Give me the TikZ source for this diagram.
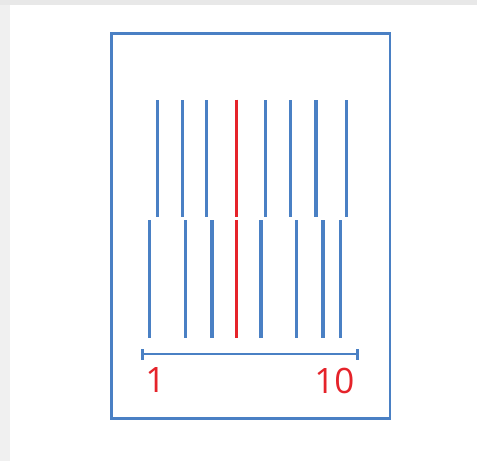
\documentclass[tikz,border=0pt]{standalone}
\usepackage{fontspec}
\setmainfont{Open Sans}
\definecolor{bgray}{HTML}{E8E8E8}
\definecolor{lgray}{HTML}{F0F0F0}
\definecolor{rblue}{HTML}{4A80C4}
\definecolor{rred}{HTML}{E5232A}
\tikzset{
  slit/.style={draw=rblue, line width=3pt},
  thickslit/.style={draw=rblue, line width=4pt},
  redslit/.style={draw=rred, line width=3pt},
  label/.style={text=rred, font=\fontsize{35}{35}\selectfont, inner sep=0pt},
}
\begin{document}
\begin{tikzpicture}[x=1pt,y=-1pt]
\useasboundingbox (0,0) rectangle (477,461);
\fill[bgray] (0,0) rectangle (477,461);
\fill[lgray] (0,5) rectangle (10,461);
\fill[white] (10,5) rectangle (477,461);
% frame
\draw[rblue, line width=2.8pt] (111.7,33.7) rectangle (390,418.3);
% top row
\foreach \x/\s in {157.7/slit,182.5/slit,206.7/slit,265.3/slit,290.2/slit,315.7/thickslit,346/slit}
  \draw[\s] (\x,100) -- (\x,217);
\draw[redslit] (236.3,99.5) -- (236.3,217);
% bottom row
\foreach \x/\s in {149.7/slit,185.7/slit,212/thickslit,261/thickslit,296.3/slit,323.3/thickslit,340/slit}
  \draw[\s] (\x,220) -- (\x,337.7);
\draw[redslit] (236.3,220) -- (236.3,337.7);
% scale bar
\coordinate (sa) at (142.7,354);
\coordinate (sb) at (357.3,354);
\draw[rblue, line width=2.6pt] (sa) -- (sb);
\draw[rblue, line width=2.6pt] ([yshift=-5.5pt]sa) -- ([yshift=5.5pt]sa);
\draw[rblue, line width=2.6pt] ([yshift=-5.5pt]sb) -- ([yshift=5.5pt]sb);
\node[label] (one) at (155.5,380.5) {1};
\node[label] (ten) at (334.3,380.5) {10};
\end{tikzpicture}
\end{document}
